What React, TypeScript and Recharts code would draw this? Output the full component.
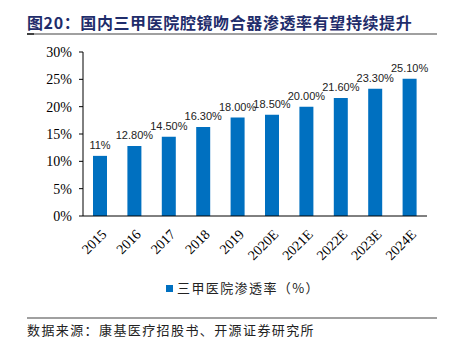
import React from "react";
import { BarChart, Bar, XAxis, YAxis, LabelList } from "recharts";

const years = ["2015", "2016", "2017", "2018", "2019", "2020E", "2021E", "2022E", "2023E", "2024E"];
const rates = [11, 12.8, 14.5, 16.3, 18, 18.5, 20, 21.6, 23.3, 25.1];
const rateLabels = ["11%", "12.80%", "14.50%", "16.30%", "18.00%", "18.50%", "20.00%", "21.60%", "23.30%", "25.10%"];
const yTicks = [0, 5, 10, 15, 20, 25, 30];
const bounds = [0, 1, 2, 3, 4, 5, 6, 7, 8, 9, 10];

const BLUE = "#0070C0";
const SERIF = "'Liberation Serif', 'Times New Roman', serif";
const CJK = "'Noto Sans CJK SC', sans-serif";

const data = years.map((y, i) => ({ year: y, rate: rates[i], label: rateLabels[i] }));

function YearTick({ x, y, payload }: any) {
  return (
    <text
      x={x + 4}
      y={y + 8}
      transform={`rotate(-45 ${x + 4} ${y + 8})`}
      textAnchor="end"
      dominantBaseline="central"
      fontFamily={SERIF}
      fontSize={14}
      fill="#000"
    >
      {payload.value}
    </text>
  );
}

export default function App() {
  return (
    <div style={{ position: "absolute", left: 0, top: 0, width: 457, height: 340, background: "#fff" }}>
      {/* Title */}
      <div
        style={{
          position: "absolute",
          left: 27,
          top: 12,
          fontFamily: CJK,
          fontWeight: 700,
          fontSize: 16,
          letterSpacing: 0.6,
          color: "#1F2D6B",
          whiteSpace: "nowrap",
          lineHeight: "20px",
        }}
      >
        图20：国内三甲医院腔镜吻合器渗透率有望持续提升
      </div>
      <div style={{ position: "absolute", left: 27, top: 33, width: 410, height: 2, background: "#A0A0A0" }} />
      <div style={{ position: "absolute", left: 27, top: 33, width: 7, height: 2, background: "#404040" }} />

      <div style={{ position: "absolute", left: 0, top: 0 }}>
        <BarChart width={457} height={280} data={data} margin={{ top: 52, right: 30, left: 0, bottom: 20 }}>
          <XAxis
            xAxisId="grid"
            type="number"
            dataKey="idx"
            domain={[0, 10]}
            ticks={bounds}
            tick={false}
            axisLine={false}
            mirror
            tickSize={4}
            height={0}
            stroke="#000"
            allowDataOverflow
          />
          <XAxis
            xAxisId="cat"
            dataKey="year"
            interval={0}
            tickLine={false}
            axisLine={{ stroke: "#000" }}
            height={44}
            tick={<YearTick />}
          />
          <YAxis
            domain={[0, 30]}
            ticks={yTicks}
            width={83}
            tickFormatter={(v: number) => `${v}%`}
            tickSize={4}
            tickMargin={7}
            stroke="#000"
            axisLine={{ stroke: "#000" }}
            tick={{ fill: "#000", fontFamily: SERIF, fontSize: 14 }}
          />
          <Bar dataKey="rate" xAxisId="cat" fill={BLUE} barSize={14} isAnimationActive={false}>
            <LabelList
              dataKey="label"
              position="top"
              offset={7}
              fill="#222"
              fontFamily="'Liberation Sans', Arial, sans-serif"
              fontSize={11}
            />
          </Bar>
        </BarChart>
      </div>

      {/* Legend */}
      <div style={{ position: "absolute", left: 166, top: 280, display: "flex", alignItems: "center" }}>
        <div style={{ width: 7, height: 7, background: BLUE, marginRight: 4 }} />
        <span style={{ fontFamily: CJK, fontSize: 13, letterSpacing: 1.4, color: "#222", lineHeight: "16px" }}>
          三甲医院渗透率（%）
        </span>
      </div>

      {/* Source */}
      <div style={{ position: "absolute", left: 27, top: 317, width: 410, height: 2, background: "#A0A0A0" }} />
      <div
        style={{
          position: "absolute",
          left: 27,
          top: 322,
          fontFamily: CJK,
          fontSize: 13,
          letterSpacing: 1.4,
          color: "#222",
          whiteSpace: "nowrap",
          lineHeight: "16px",
        }}
      >
        数据来源：康基医疗招股书、开源证券研究所
      </div>
    </div>
  );
}
